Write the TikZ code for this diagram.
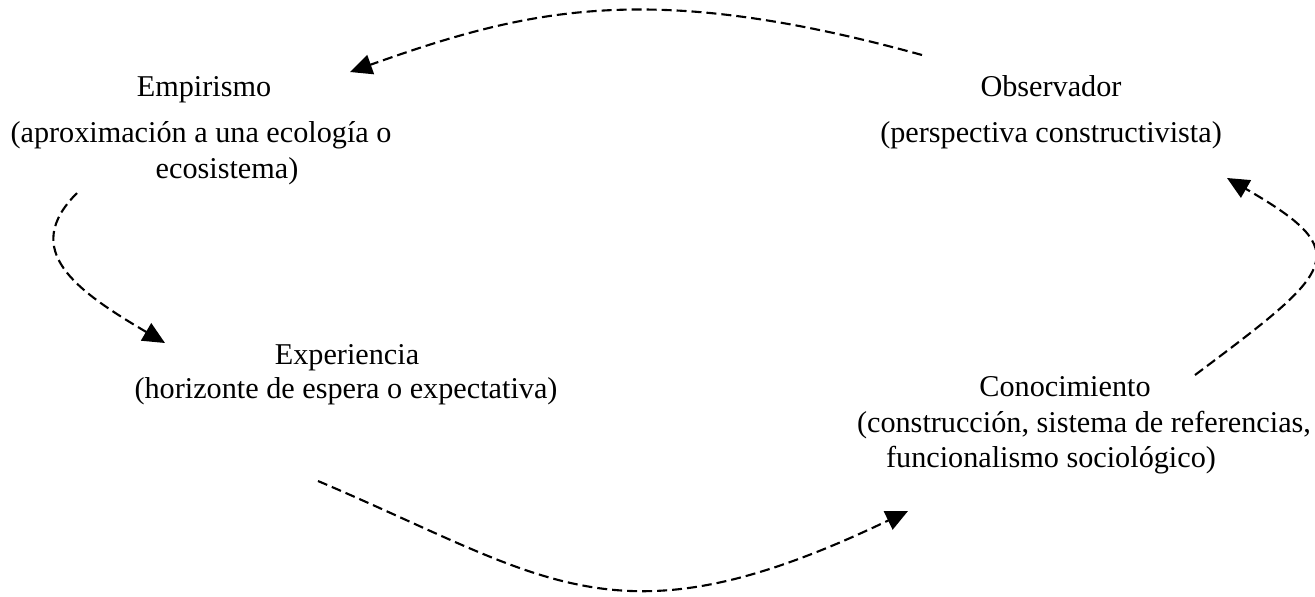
\documentclass[tikz,border=0pt]{standalone}
\usepackage{fontspec}
\setmainfont{Liberation Serif}
\usepackage{tikz}
\usetikzlibrary{arrows.meta}

\begin{document}
\begin{tikzpicture}[x=0.02cm,y=-0.02cm,
   every node/.style={font=\fontsize{17.2}{20.5}\selectfont,inner sep=0pt,text height=0.7em,text depth=0.22em},
   flecha/.style={-{Triangle[length=4.4mm,width=4mm]},dash pattern=on 2mm off 1mm,line width=1.2pt}]
   \useasboundingbox (0,0) rectangle (1315,596);

   \draw (204,92) node (emp) {Empirismo};
   \draw (201,138) node (emp-a) {(aproximación a una ecología o};
   \draw (227,174) node (emp-b) {ecosistema)};

   \draw (1051,92) node (obs) {Observador};
   \draw (1051,138) node (obs-a) {(perspectiva constructivista)};

   \draw (347,360) node (exp) {Experiencia};
   \draw (346,394) node (exp-a) {(horizonte de espera o expectativa)};

   \draw (1065,392) node (con) {Conocimiento};
   \draw (1084,428) node (con-a) {(construcción, sistema de referencias,};
   \draw (1051,463) node (con-b) {funcionalismo sociológico)};

   % extremos de las flechas
   \coordinate (obs-sal) at (922,55);
   \coordinate (emp-lleg) at (350,72);
   \coordinate (emp-sal) at (77,193);
   \coordinate (exp-lleg) at (165,343);
   \coordinate (exp-sal) at (318,481);
   \coordinate (con-lleg) at (908,511);
   \coordinate (con-sal) at (1195,375);
   \coordinate (obs-lleg) at (1227,178);

   \draw[flecha] (obs-sal) .. controls (650,-20) and (530,8) .. (emp-lleg);
   \draw[flecha] (emp-sal) .. controls (20,250) and (75,290) .. (exp-lleg);
   \draw[flecha] (exp-sal) .. controls (549,579) and (616,651) .. (con-lleg);
   \draw[flecha] (con-sal) .. controls (1335,270) and (1357,253) .. (obs-lleg);
\end{tikzpicture}
\end{document}
